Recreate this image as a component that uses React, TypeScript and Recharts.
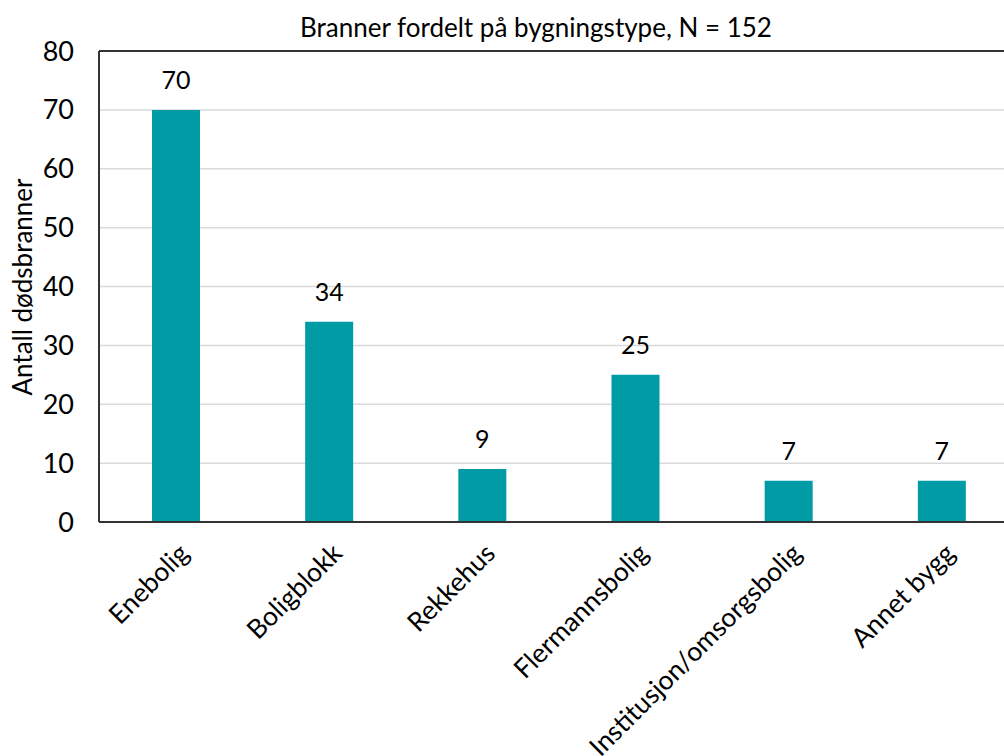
import { Bar, BarChart, CartesianGrid, LabelList, ReferenceLine, XAxis, YAxis } from "recharts";

const categories = ["Enebolig", "Boligblokk", "Rekkehus", "Flermannsbolig", "Institusjon/omsorgsbolig", "Annet bygg"];
const fires = [70, 34, 9, 25, 7, 7];
const yTicks = [0, 10, 20, 30, 40, 50, 60, 70, 80];

const data = categories.map((name, i) => ({ name, fires: fires[i] }));

const FONT = "Lato, 'Open Sans', sans-serif";

function AngledTick({ x, y, payload }: any) {
  const ax = x + 15;
  const ay = y + 25;
  return (
    <text
      x={ax}
      y={ay}
      transform={`rotate(-45, ${ax}, ${ay})`}
      textAnchor="end"
      fill="#000"
      fontSize={26.5}
      fontFamily={FONT}
    >
      {payload.value}
    </text>
  );
}

export default function App() {
  return (
    <div style={{ position: "absolute", left: 0, top: 0, width: 1004, height: 756, overflow: "hidden", background: "#fff" }}>
      <div
        style={{
          position: "absolute",
          top: 11,
          left: 0,
          width: 1072,
          textAlign: "center",
          fontFamily: FONT,
          fontSize: 26,
          color: "#000",
        }}
      >
        Branner fordelt på bygningstype, N = 152
      </div>
      <div
        style={{
          position: "absolute",
          left: 22,
          top: 287,
          transform: "translate(-50%, -50%) rotate(-90deg)",
          whiteSpace: "nowrap",
          fontFamily: FONT,
          fontSize: 26,
          color: "#000",
        }}
      >
        Antall dødsbranner
      </div>
      <BarChart
        width={1030}
        height={756}
        data={data}
        margin={{ top: 51, right: 12, left: 0, bottom: 204 }}
        style={{ fontFamily: FONT }}
      >
        <CartesianGrid vertical={false} stroke="#d9d9d9" strokeWidth={1.5} />
        <ReferenceLine y={80} stroke="#333" strokeWidth={2} />
        <XAxis
          dataKey="name"
          interval={0}
          tick={<AngledTick />}
          tickLine={false}
          axisLine={{ stroke: "#333", strokeWidth: 2 }}
        />
        <YAxis
          domain={[0, 80]}
          ticks={yTicks}
          interval={0}
          width={99}
          tickLine={false}
          axisLine={{ stroke: "#333", strokeWidth: 2 }}
          tick={{ fill: "#000", fontSize: 27, fontFamily: FONT }}
          tickMargin={19}
        />
        <Bar dataKey="fires" fill="#009ba4" barSize={48} isAnimationActive={false}>
          <LabelList dataKey="fires" position="top" offset={21} fill="#000" fontSize={25} fontFamily={FONT} />
        </Bar>
      </BarChart>
    </div>
  );
}
